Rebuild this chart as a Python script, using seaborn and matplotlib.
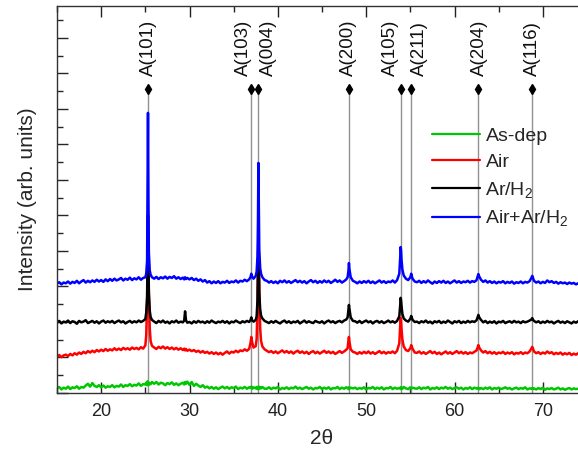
import numpy as np
import pandas as pd
import matplotlib
matplotlib.use("Agg")
import matplotlib.pyplot as plt
from matplotlib.ticker import MultipleLocator, NullFormatter
import seaborn as sns

# ---------------- data ----------------
two_theta = (
    [15.0, 15.25, 15.5, 15.75, 16.0, 16.25, 16.5, 16.75, 17.0, 17.25, 17.5, 17.75,
     18.0, 18.25, 18.5, 18.75, 19.0, 19.25, 19.5, 19.75, 20.0, 20.25, 20.5, 20.75,
     21.0, 21.25, 21.5, 21.75, 22.0, 22.25, 22.5, 22.75, 23.0, 23.25, 23.5, 23.75,
     24.0, 24.25, 24.5, 24.75]
    + [25.0, 25.1, 25.2, 25.25, 25.3, 25.35, 25.4, 25.5, 25.6, 25.75]
    + [26.0, 26.25, 26.5, 26.75, 27.0, 27.25, 27.5, 27.75, 28.0, 28.25, 28.5, 28.75, 29.0]
    + [29.25, 29.4, 29.5, 29.6, 29.75]
    + [30.0, 30.25, 30.5, 30.75, 31.0, 31.25, 31.5, 31.75, 32.0, 32.25, 32.5, 32.75,
       33.0, 33.25, 33.5, 33.75, 34.0, 34.25, 34.5, 34.75, 35.0, 35.25, 35.5, 35.75,
       36.0, 36.25, 36.5, 36.75]
    + [36.9, 37.0, 37.1, 37.25, 37.5, 37.6, 37.7, 37.75, 37.8, 37.85, 37.9, 38.0, 38.1, 38.25, 38.5]
    + [38.75, 39.0, 39.25, 39.5, 39.75, 40.0, 40.25, 40.5, 40.75, 41.0, 41.25, 41.5,
       41.75, 42.0, 42.25, 42.5, 42.75, 43.0, 43.25, 43.5, 43.75, 44.0, 44.25, 44.5,
       44.75, 45.0, 45.25, 45.5, 45.75, 46.0, 46.25, 46.5, 46.75, 47.0, 47.25, 47.5, 47.75]
    + [47.9, 48.0, 48.05, 48.1, 48.25, 48.5]
    + [48.75, 49.0, 49.25, 49.5, 49.75, 50.0, 50.25, 50.5, 50.75, 51.0, 51.25, 51.5,
       51.75, 52.0, 52.25, 52.5, 52.75, 53.0, 53.25, 53.5, 53.75]
    + [53.85, 53.9, 53.95, 54.0, 54.1, 54.25, 54.5, 54.75, 55.0, 55.1, 55.25, 55.5]
    + [55.75, 56.0, 56.25, 56.5, 56.75, 57.0, 57.25, 57.5, 57.75, 58.0, 58.25, 58.5,
       58.75, 59.0, 59.25, 59.5, 59.75, 60.0, 60.25, 60.5, 60.75, 61.0, 61.25, 61.5,
       61.75, 62.0, 62.25, 62.5]
    + [62.6, 62.7, 62.8]
    + [63.0, 63.25, 63.5, 63.75, 64.0, 64.25, 64.5, 64.75, 65.0, 65.25, 65.5, 65.75,
       66.0, 66.25, 66.5, 66.75, 67.0, 67.25, 67.5, 67.75, 68.0, 68.25, 68.5]
    + [68.7, 68.8, 68.9]
    + [69.0, 69.25, 69.5, 69.75, 70.0, 70.25, 70.5, 70.75, 71.0, 71.25, 71.5, 71.75,
       72.0, 72.25, 72.5, 72.75, 73.0, 73.25, 73.5, 73.75, 74.0, 74.25, 74.5, 74.75, 75.0]
)

as_dep = (
    [13, 17, 10, 15, 12, 18, 11, 16, 14, 19, 12, 17, 15, 21, 26, 18, 28, 20, 17, 22,
     16, 21, 15, 19, 17, 22, 16, 20, 18, 24, 17, 22, 20, 25, 19, 23, 21, 27, 20, 25]
    + [24, 29, 22, 33, 26, 30, 23, 28, 25, 31]
    + [26, 31, 24, 29, 27, 22, 28, 25, 30, 23, 27, 22, 26]
    + [29, 24, 31, 26, 32]
    + [23, 31, 20, 26, 21, 17, 22, 15, 18, 13, 17, 12, 16, 11, 15, 18, 13, 17, 12, 16,
       14, 18, 11, 15, 13, 17, 12, 16]
    + [14, 18, 12, 16, 13, 17, 11, 15, 14, 18, 12, 16, 13, 17, 12]
    + [12, 16, 11, 15, 13, 17, 10, 14, 12, 16, 11, 15, 13, 18, 12, 15, 11, 14, 17, 12,
       15, 10, 14, 13, 17, 11, 15, 12, 16, 10, 14, 13, 17, 11, 15, 12, 16]
    + [14, 11, 16, 12, 15, 13]
    + [15, 11, 14, 12, 16, 10, 14, 13, 17, 11, 15, 12, 16, 10, 14, 13, 17, 11, 15, 12, 14]
    + [13, 16, 11, 15, 12, 17, 13, 11, 16, 12, 15, 13]
    + [12, 16, 11, 15, 13, 17, 10, 14, 12, 16, 11, 15, 13, 17, 12, 15, 11, 14, 16, 12,
       15, 10, 14, 12, 16, 11, 15, 13]
    + [12, 15, 11]
    + [14, 11, 15, 12, 16, 10, 14, 12, 15, 11, 13, 16, 12, 14, 10, 13, 15, 11, 14, 12,
       16, 10, 13]
    + [12, 14, 11]
    + [13, 10, 14, 11, 15, 9, 13, 11, 14, 10, 12, 15, 10, 13, 9, 12, 14, 10, 13, 11,
       12, 9, 13, 10, 11]
)

air = (
    [103, 107, 101, 106, 108, 104, 110, 106, 112, 108, 114, 110, 116, 112, 118, 114,
     119, 115, 121, 117, 122, 118, 124, 119, 123, 120, 126, 121, 125, 121, 127, 123,
     126, 122, 128, 124, 127, 123, 129, 125]
    + [134, 162, 252, 345, 389, 362, 282, 182, 146, 133]
    + [128, 124, 130, 126, 131, 125, 129, 124, 128, 123, 127, 122, 126]
    + [121, 125, 120, 124, 119]
    + [122, 118, 121, 116, 119, 114, 118, 113, 116, 111, 115, 110, 114, 109, 113, 108,
       113, 117, 111, 116, 114, 119, 115, 120, 118, 123, 119, 124]
    + [140, 158, 142, 128, 132, 152, 250, 372, 445, 402, 292, 182, 147, 131, 123]
    + [119, 115, 118, 113, 117, 112, 116, 120, 114, 118, 113, 117, 111, 116, 119, 113,
       117, 112, 116, 110, 115, 118, 112, 116, 111, 115, 119, 113, 117, 112, 116, 110,
       114, 118, 113, 117, 122]
    + [126, 150, 158, 146, 123, 116]
    + [114, 110, 115, 111, 116, 112, 117, 111, 115, 110, 114, 118, 112, 116, 111, 115,
       113, 117, 112, 119, 140]
    + [190, 211, 205, 181, 151, 131, 121, 118, 126, 135, 125, 114]
    + [113, 117, 111, 115, 110, 114, 118, 112, 116, 110, 114, 109, 113, 117, 111, 115,
       110, 114, 118, 112, 116, 111, 115, 110, 114, 112, 116, 120]
    + [127, 135, 128]
    + [120, 114, 118, 112, 116, 111, 115, 110, 114, 112, 116, 110, 114, 111, 115, 109,
       113, 111, 115, 110, 114, 112, 117]
    + [125, 130, 124]
    + [117, 112, 115, 110, 114, 111, 117, 112, 115, 109, 113, 110, 114, 108, 112, 109,
       113, 107, 111, 108, 112, 106, 110, 107, 111]
)

ar_h2 = (
    [198, 203, 196, 201, 199, 204, 197, 202, 200, 195, 203, 199, 201, 205, 197, 200,
     203, 198, 202, 196, 201, 204, 198, 202, 199, 203, 197, 201, 204, 199, 202, 196,
     200, 203, 198, 202, 199, 204, 200, 203]
    + [208, 226, 272, 390, 501, 405, 282, 232, 214, 206]
    + [201, 197, 203, 199, 204, 198, 201, 196, 202, 199, 204, 198, 201]
    + [199, 204, 230, 205, 198]
    + [200, 196, 202, 198, 203, 199, 201, 197, 202, 198, 204, 200, 197, 201, 199, 203,
       198, 202, 196, 201, 199, 204, 200, 197, 202, 199, 203, 200]
    + [205, 213, 204, 201, 206, 216, 262, 340, 440, 362, 282, 236, 218, 210, 203]
    + [200, 197, 202, 198, 203, 199, 196, 201, 204, 198, 202, 197, 201, 199, 203, 196,
       200, 204, 198, 202, 199, 197, 203, 200, 198, 202, 196, 201, 204, 199, 202, 197,
       201, 203, 199, 204, 207]
    + [213, 236, 248, 238, 213, 203]
    + [202, 198, 203, 197, 201, 204, 199, 202, 196, 201, 203, 198, 202, 197, 200, 204,
       199, 202, 198, 203, 216]
    + [246, 268, 262, 246, 223, 210, 204, 201, 209, 217, 206, 200]
    + [201, 197, 202, 199, 204, 198, 201, 196, 202, 199, 203, 197, 201, 198, 204, 200,
       196, 202, 199, 203, 197, 201, 198, 203, 199, 202, 200, 205]
    + [212, 220, 213]
    + [206, 199, 203, 197, 201, 198, 202, 196, 201, 199, 203, 197, 200, 202, 198, 203,
       199, 201, 197, 202, 199, 201, 204]
    + [207, 211, 206]
    + [203, 199, 202, 197, 201, 198, 203, 199, 201, 196, 200, 203, 198, 201, 197, 202,
       199, 196, 201, 198, 202, 197, 200, 198, 201]
)

air_ar_h2 = (
    [308, 312, 306, 311, 309, 314, 308, 313, 310, 316, 309, 314, 318, 311, 316, 312,
     317, 313, 319, 314, 318, 313, 320, 315, 321, 316, 322, 317, 320, 324, 317, 322,
     319, 325, 318, 323, 320, 326, 319, 324]
    + [326, 336, 372, 560, 789, 540, 395, 345, 333, 326]
    + [322, 327, 321, 326, 323, 328, 322, 327, 324, 329, 322, 326, 321]
    + [325, 320, 326, 321, 324]
    + [320, 324, 318, 322, 316, 320, 314, 318, 311, 315, 309, 314, 310, 315, 309, 313,
       311, 316, 310, 314, 312, 317, 311, 316, 314, 319, 315, 320]
    + [326, 336, 327, 322, 330, 342, 385, 480, 648, 520, 402, 352, 336, 326, 318]
    + [316, 311, 315, 310, 314, 309, 316, 312, 317, 311, 315, 310, 314, 318, 312, 316,
       311, 315, 309, 314, 318, 312, 316, 310, 315, 311, 317, 312, 316, 310, 314, 319,
       313, 317, 311, 315, 320]
    + [326, 346, 366, 350, 326, 316]
    + [313, 309, 314, 310, 315, 311, 316, 310, 314, 309, 313, 317, 311, 315, 310, 314,
       312, 317, 311, 318, 336]
    + [380, 411, 402, 376, 348, 331, 322, 318, 326, 336, 322, 314]
    + [312, 316, 310, 315, 311, 317, 312, 308, 314, 310, 315, 311, 316, 310, 314, 309,
       313, 317, 311, 315, 310, 314, 312, 316, 311, 315, 313, 318]
    + [327, 335, 328]
    + [319, 313, 317, 311, 315, 310, 314, 309, 313, 311, 315, 309, 313, 310, 314, 308,
       312, 310, 314, 309, 313, 311, 315]
    + [324, 330, 323]
    + [316, 311, 314, 309, 313, 310, 317, 312, 315, 310, 313, 308, 312, 309, 311, 307,
       311, 308, 310, 306, 309, 305, 309, 306, 308]
)

sample_names = ["As-dep", "Air", "Ar/H$_2$", "Air+Ar/H$_2$"]
sample_colors = ["#00c800", "#ff0000", "#000000", "#0000ff"]

peak_labels = ["A(101)", "A(103)", "A(004)", "A(200)", "A(105)", "A(211)", "A(204)", "A(116)"]
peak_positions = [25.3, 37.0, 37.8, 48.05, 53.9, 55.1, 62.7, 68.8]
label_positions = [25.4, 36.1, 38.9, 48.05, 52.8, 56.0, 62.8, 68.8]
marker_level = 856
label_level = 893

# ---------------- build table ----------------
series = [as_dep, air, ar_h2, air_ar_h2]
for s in series:
    assert len(s) == len(two_theta), (len(s), len(two_theta))
frames = [pd.DataFrame({"two_theta": two_theta, "intensity": s, "sample": n})
          for s, n in zip(series, sample_names)]
df = pd.concat(frames, ignore_index=True)

# ---------------- style ----------------
sns.set_style("ticks")
plt.rcParams["font.family"] = ["Liberation Sans", "DejaVu Sans"]
plt.rcParams["mathtext.fontset"] = "custom"
plt.rcParams["mathtext.rm"] = "Liberation Sans"
plt.rcParams["mathtext.it"] = "Liberation Sans:italic"
plt.rcParams["mathtext.bf"] = "Liberation Sans:bold"

fig = plt.figure(figsize=(5.78, 4.57), dpi=100)
ax = fig.add_axes([57 / 578, 64 / 457, 530 / 578, 387 / 457])

# reference lines + markers
for pos in peak_positions:
    ax.plot([pos, pos], [0, marker_level], color="#909090", lw=1.0, zorder=1)
ax.plot(peak_positions, [marker_level] * len(peak_positions), ls="none",
        marker="d", ms=5, color="black", zorder=3)
for lab, pos in zip(peak_labels, label_positions):
    ax.text(pos, label_level, lab, rotation=90, ha="center", va="bottom",
            fontsize=13.5, color="#111111")

sns.lineplot(data=df, x="two_theta", y="intensity", hue="sample",
             hue_order=sample_names, palette=sample_colors, estimator=None,
             sort=False, lw=1.8, ax=ax, zorder=2)

ax.set_xlim(15, 75)
ax.set_ylim(0, 1090)
ax.xaxis.set_major_locator(MultipleLocator(10))
ax.xaxis.set_minor_locator(MultipleLocator(5))
ax.yaxis.set_major_locator(MultipleLocator(100))
ax.yaxis.set_minor_locator(MultipleLocator(50))
ax.yaxis.set_major_formatter(NullFormatter())
ax.tick_params(axis="x", which="both", direction="in", top=True, bottom=True,
               labelsize=13, colors="#222222", pad=7)
ax.tick_params(axis="y", which="both", direction="in", left=True, right=False)
ax.tick_params(which="major", length=8, width=1)
ax.tick_params(which="minor", length=4.5, width=1)
for sp in ax.spines.values():
    sp.set_color("#333333")
    sp.set_linewidth(1.0)

ax.set_xlabel("2θ", fontsize=15)
ax.set_ylabel("Intensity (arb. units)", fontsize=15)
ax.xaxis.set_label_coords(0.5, -0.092)
ax.yaxis.set_label_coords(-0.038, 0.5)

handles, labels = ax.get_legend_handles_labels()
leg = ax.legend(handles[-4:], labels[-4:], loc="upper left",
                bbox_to_anchor=(432 / 578, 1 - 127 / 457),
                bbox_transform=fig.transFigure, frameon=False, fontsize=14,
                handlelength=2.45, handletextpad=0.3, labelspacing=0.45,
                borderpad=0, borderaxespad=0)
for lh in leg.get_lines():
    lh.set_linewidth(1.6)

fig.savefig("out.png", dpi=100)
